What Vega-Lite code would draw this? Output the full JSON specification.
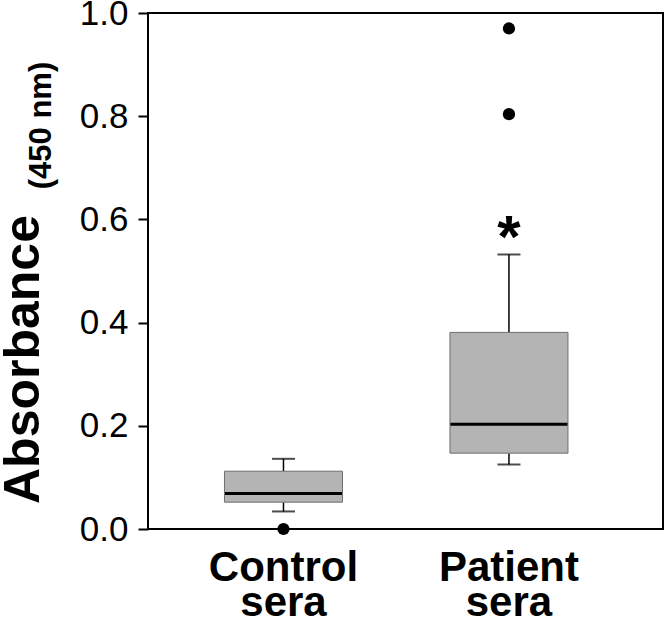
{
  "$schema": "https://vega.github.io/schema/vega-lite/v6.json",
  "width": 515,
  "height": 516,
  "autosize": "none",
  "padding": {"left": 148, "top": 13, "right": 3, "bottom": 101},
  "background": "white",
  "config": {
    "view": {"stroke": "black", "strokeWidth": 2},
    "font": "Liberation Sans"
  },
  "datasets": {
    "boxes": [
      {"group": "Control sera", "lower": 0.034, "q1": 0.052, "median": 0.069, "q3": 0.112, "upper": 0.136},
      {"group": "Patient sera", "lower": 0.125, "q1": 0.147, "median": 0.203, "q3": 0.381, "upper": 0.532}
    ],
    "outliers": [
      {"group": "Control sera", "value": 0.0},
      {"group": "Patient sera", "value": 0.804},
      {"group": "Patient sera", "value": 0.970}
    ],
    "notes": [
      {"group": "Patient sera", "value": 0.592, "label": "*"}
    ]
  },
  "encoding": {
    "x": {
      "field": "group",
      "type": "nominal",
      "sort": ["Control sera", "Patient sera"],
      "scale": {"type": "band", "domain": ["Control sera", "Patient sera"], "paddingInner": 0, "paddingOuter": 0.142, "align": 0.355},
      "axis": {
        "title": null,
        "domain": false,
        "ticks": false,
        "labelAngle": 0,
        "labelExpr": "split(datum.label, ' ')",
        "labelFontSize": 42,
        "labelFontWeight": "bold",
        "labelColor": "black",
        "labelLineHeight": 35,
        "labelPadding": 18,
        "labelFont": "Liberation Sans"
      }
    }
  },
  "layer": [
    {
      "data": {"name": "boxes"},
      "mark": {"type": "rule", "color": "black", "strokeWidth": 1.5},
      "encoding": {
        "y": {
          "field": "lower",
          "type": "quantitative",
          "scale": {"domain": [0, 1], "nice": false, "zero": true},
          "axis": {
            "orient": "left",
            "values": [0, 0.2, 0.4, 0.6, 0.8, 1.0],
            "format": ".1f",
            "grid": false,
            "domain": false,
            "tickColor": "black",
            "tickWidth": 2,
            "tickSize": 10,
            "labelFontSize": 35,
            "labelColor": "black",
            "labelPadding": 10,
            "labelFlush": false,
            "labelOverlap": false,
            "labelFont": "Liberation Sans",
            "title": "Absorbance",
            "titleFont": "Liberation Sans",
            "titleFontSize": 50,
            "titleFontWeight": "bold",
            "titleColor": "black",
            "titleAngle": 270,
            "titleAlign": "center",
            "titleBaseline": "alphabetic",
            "titleX": -110,
            "titleY": 346
          }
        },
        "y2": {"field": "q1"}
      }
    },
    {
      "data": {"name": "boxes"},
      "mark": {"type": "rule", "color": "black", "strokeWidth": 1.5},
      "encoding": {
        "y": {"field": "q3", "type": "quantitative", "axis": null},
        "y2": {"field": "upper"}
      }
    },
    {
      "data": {"name": "boxes"},
      "mark": {"type": "tick", "color": "black", "size": 23, "thickness": 2},
      "encoding": {
        "y": {"field": "lower", "type": "quantitative", "axis": null}
      }
    },
    {
      "data": {"name": "boxes"},
      "mark": {"type": "tick", "color": "black", "size": 23, "thickness": 2},
      "encoding": {
        "y": {"field": "upper", "type": "quantitative", "axis": null}
      }
    },
    {
      "data": {"name": "boxes"},
      "mark": {"type": "bar", "size": 118, "fill": "#b4b4b4", "stroke": "#6e6e6e", "strokeWidth": 1},
      "encoding": {
        "y": {"field": "q1", "type": "quantitative", "axis": null},
        "y2": {"field": "q3"}
      }
    },
    {
      "data": {"name": "boxes"},
      "mark": {"type": "tick", "color": "black", "size": 117, "thickness": 3, "opacity": 1},
      "encoding": {
        "y": {"field": "median", "type": "quantitative", "axis": null}
      }
    },
    {
      "data": {"name": "outliers"},
      "mark": {"type": "circle", "color": "black", "size": 150, "opacity": 1},
      "encoding": {
        "y": {
          "field": "value",
          "type": "quantitative",
          "axis": {
            "orient": "left",
            "offset": 0,
            "labels": false,
            "ticks": false,
            "domain": false,
            "grid": false,
            "title": "(450 nm)",
            "titleFont": "Liberation Sans",
            "titleFontSize": 31,
            "titleFontWeight": "bold",
            "titleColor": "black",
            "titleAngle": 270,
            "titleAlign": "center",
            "titleBaseline": "alphabetic",
            "titleX": -98,
            "titleY": 112
          }
        }
      }
    },
    {
      "data": {"name": "notes"},
      "mark": {"type": "text", "color": "black", "fontSize": 60, "fontWeight": "bold", "font": "Liberation Sans", "baseline": "middle", "align": "center", "dy": 15},
      "encoding": {
        "y": {"field": "value", "type": "quantitative", "axis": null},
        "text": {"field": "label"}
      }
    }
  ],
  "resolve": {"scale": {"y": "shared"}, "axis": {"y": "independent"}}
}
